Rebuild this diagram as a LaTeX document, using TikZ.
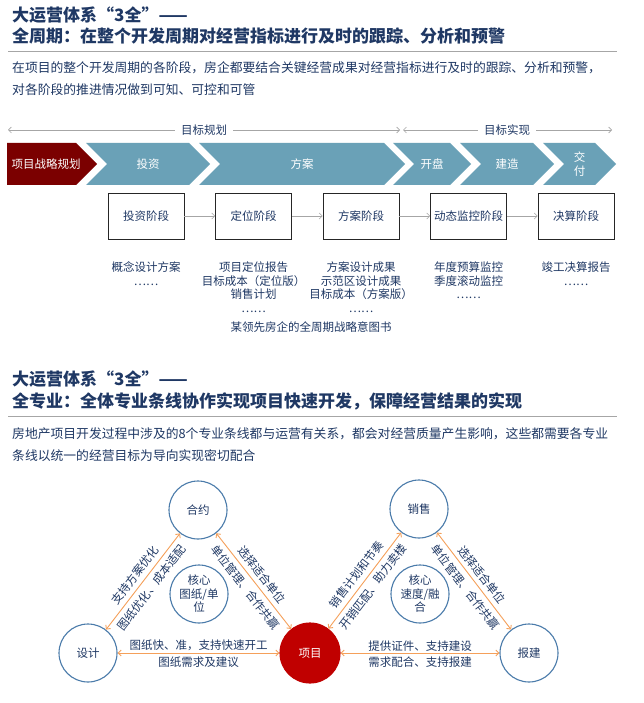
\documentclass[tikz,border=0pt]{standalone}
\usepackage{fontspec}
\setmainfont{Noto Sans CJK SC}
\usetikzlibrary{arrows.meta}
\definecolor{navy}{HTML}{1F3864}
\definecolor{rulegray}{HTML}{A6A6A6}
\definecolor{darkred}{HTML}{7B0000}
\definecolor{chevteal}{HTML}{6AA1B7}
\definecolor{projred}{HTML}{C00000}
\definecolor{ringblue}{HTML}{4A7BAA}
\definecolor{linkorange}{HTML}{F5A05A}
\tikzset{
  headline/.style={anchor=west,inner sep=0pt,text=navy,font=\fontsize{17}{20}\selectfont\bfseries},
  bodyline/.style={anchor=west,inner sep=0pt,text=navy,font=\fontsize{12.8}{15}\selectfont},
  small/.style={text=navy,font=\fontsize{11.5}{13.5}\selectfont,align=center},
  span/.style={draw=gray!70,line width=0.6pt,-{Straight Barb[length=3pt,width=6pt]}},
  stagebox/.style={small,draw=black!85,line width=0.8pt,minimum width=76pt,minimum height=46pt,inner sep=0pt},
  ring/.style={small,circle,draw=ringblue,line width=1.1pt,minimum size=58pt,inner sep=0pt},
  link/.style={draw=linkorange,line width=0.9pt,{Straight Barb[length=3pt,width=6pt]}-{Straight Barb[length=3pt,width=6pt]}},
  tag/.style={small,sloped,midway,inner sep=1.5pt}
}
\begin{document}
\begin{tikzpicture}[x=1pt,y=-1pt]
\useasboundingbox[fill=white] (0,0) rectangle (644,703);
\node[headline] (headA) at (12,15) {大运营体系“3全”——};
\node[headline] (headB) at (12,36) {全周期：在整个开发周期对经营指标进行及时的跟踪、分析和预警};
\draw[rulegray,line width=0.8pt] (8,51)--(617,51);
\node[bodyline] (textA) at (12,68) {在项目的整个开发周期的各阶段，房企都要结合关键经营成果对经营指标进行及时的跟踪、分析和预警，};
\node[bodyline] (textB) at (12,90) {对各阶段的推进情况做到可知、可控和可管};
\node[small,inner sep=6pt] (plan) at (204,130) {目标规划}; \node[small,inner sep=6pt] (real) at (507,130) {目标实现};
\coordinate (planL) at (8,130); \coordinate (planR) at (400,130); \coordinate (realL) at (403,130); \coordinate (realR) at (612,130);
\draw[span] (plan)--(planL); \draw[span] (plan)--(planR); \draw[span] (real)--(realL); \draw[span] (real)--(realR);
\fill[darkred] (7,143)--(76,143)--(97,164)--(76,185)--(7,185)--cycle;
\node[small,text=white] (strat) at (46,164) {项目战略规划};
\foreach \L/\T/\txt [count=\k] in {86/210/投资,199/405/方案,393/471/开盘,460/554/建造,543/616/{交\\付}} {
  \fill[chevteal] (\L,143)--(\T-21,143)--(\T,164)--(\T-21,185)--(\L,185)--(\L+21,164)--cycle;
  \node[small,text=white] (phase\k) at ({(\L+\T)/2},164) {\txt};
}
\foreach \n/\txt [count=\i from 0] in {inv/投资阶段,pos/定位阶段,sch/方案阶段,mon/动态监控阶段,fin/决算阶段}
  \node[stagebox] (\n) at ({146+107.5*\i},216) {\txt};
\foreach \a/\b in {inv/pos,pos/sch,sch/mon,mon/fin} \draw[span] (\a)--(\b);
\node[small,anchor=north] (invOut) at ([yshift=-19pt]inv.south) {概念设计方案\\……};
\node[small,anchor=north] (posOut) at ([yshift=-19pt]pos.south) {项目定位报告\\目标成本（定位版）\\销售计划\\……};
\node[small,anchor=north] (schOut) at ([yshift=-19pt]sch.south) {方案设计成果\\示范区设计成果\\目标成本（方案版）\\……};
\node[small,anchor=north] (monOut) at ([yshift=-19pt]mon.south) {年度预算监控\\季度滚动监控\\……};
\node[small,anchor=north] (finOut) at ([yshift=-19pt]fin.south) {竣工决算报告\\……};
\node[small] (caption) at (311,327) {某领先房企的全周期战略意图书};
\node[headline] (headC) at (12,379) {大运营体系“3全”——};
\node[headline] (headD) at (12,401) {全专业：全体专业条线协作实现项目快速开发，保障经营结果的实现};
\draw[rulegray,line width=0.8pt] (8,416)--(617,416);
\node[bodyline] (textC) at (12,434) {房地产项目开发过程中涉及的8个专业条线都与运营有关系，都会对经营质量产生影响，这些都需要各专业};
\node[bodyline] (textD) at (12,456) {条线以统一的经营目标为导向实现密切配合};
\node[ring] (contract) at (198,510) {合约};
\node[ring] (design) at (88,653) {设计};
\node[ring,fill=projred,draw=projred,text=white,minimum size=60pt] (project) at (310,653) {项目};
\node[ring] (coreA) at (199,594) {核心\\图纸/单\\位};
\node[ring] (sales) at (419,509) {销售};
\node[ring] (permit) at (529,653) {报建};
\node[ring] (coreB) at (420,594) {核心\\速度/融\\合};
\draw[link] (design)--(contract) node[tag,above=3pt] {支持方案优化} node[tag,below=3pt] {图纸优化、成本适配};
\draw[link] (contract)--(project) node[tag,above=3pt] {选择适合单位} node[tag,below=3pt] {单位管理、合作共赢};
\draw[link] (design)--(project) node[tag,above=0pt] {图纸快、准，支持快速开工} node[tag,below=2pt] {图纸需求及建议};
\draw[link] (project)--(sales) node[tag,above=3pt] {销售计划和节奏} node[tag,below=3pt] {开销匹配、助力卖楼};
\draw[link] (sales)--(permit) node[tag,above=3pt] {选择适合单位} node[tag,below=3pt] {单位管理、合作共赢};
\draw[link] (project)--(permit) node[tag,above=0pt] {提供证件、支持建设} node[tag,below=2pt] {需求配合、支持报建};
\end{tikzpicture}
\end{document}
